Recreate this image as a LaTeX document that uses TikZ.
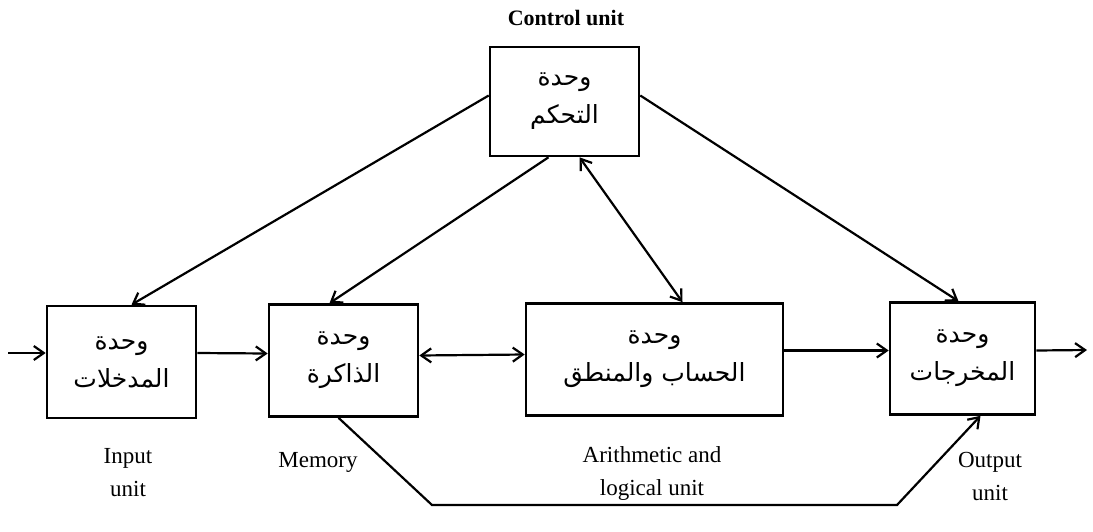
\documentclass[tikz,border=0pt]{standalone}
\usepackage{fontspec}
\setmainfont{Liberation Serif}
\newfontfamily\arabicfont[Script=Arabic]{DejaVu Sans}
\TeXXeTstate=1
\usepackage{tikz}
\usetikzlibrary{arrows.meta,positioning,calc}
\newcommand{\artxt}[1]{{\arabicfont\beginR #1\endR}}

\begin{document}
\begin{tikzpicture}[x=1pt,y=-1pt,>={Straight Barb[length=10pt,width=14pt]},
  unitbox/.style={draw,line width=2.6pt,minimum height=112pt,align=center,
    font=\fontsize{25}{38}\selectfont,inner sep=0pt},
  flow/.style={line width=2.2pt,->},
  tag/.style={align=center,font=\fontsize{23}{33}\selectfont}]
\useasboundingbox (0,0) rectangle (1093,531);
\node[unitbox,minimum width=149pt,minimum height=109pt] (ctrl) at (564.5,101.5) {\artxt{وحدة}\\\artxt{التحكم}};
\node[unitbox,minimum width=149pt] (in) at (121.5,362) {\artxt{وحدة}\\\artxt{المدخلات}};
\node[unitbox,minimum width=149pt] (mem) at (343.5,360.5) {\artxt{وحدة}\\\artxt{الذاكرة}};
\node[unitbox,minimum width=257pt] (alu) at (654.5,359.5) {\artxt{وحدة}\\\artxt{الحساب والمنطق}};
\node[unitbox,minimum width=145pt] (out) at (962.5,358.5) {\artxt{وحدة}\\\artxt{المخرجات}};
\coordinate (src) at (8,353);
\coordinate (snk) at (1087,350);
\coordinate (bl) at (432,505);
\coordinate (br) at (897,505);
\draw[flow] (src) -- (src -| in.west);
\draw[flow] ([yshift=9pt]in.east) -- ([yshift=7pt]mem.west);
\draw[flow,<->] ([yshift=5pt]mem.east) -- ([yshift=5pt]alu.east -| alu.west);
\draw[flow] ([yshift=9pt]alu.east) -- ([yshift=8pt]out.west);
\draw[flow] ([yshift=8pt]out.east) -- (snk);
\draw[flow] ([yshift=6pt]ctrl.west) -- ([xshift=10pt]in.north);
\draw[flow] ([xshift=-16pt]ctrl.south) -- ([xshift=-14pt]mem.north);
\draw[flow,<->] ([xshift=15pt]ctrl.south) -- ([xshift=28pt]alu.north);
\draw[flow] ([yshift=6pt]ctrl.east) -- ([xshift=-4pt]out.north);
\draw[flow] ([xshift=-5pt]mem.south) -- (bl) -- (br) -- ([xshift=18pt]out.south);
\node[tag,font=\fontsize{22}{26}\selectfont\bfseries] (ctrltag) at (566,18) {Control unit};
\node[tag] (intag) at (128,473) {Input\\unit};
\node[tag] (memtag) at (318,462) {Memory};
\node[tag] (alutag) at (652,473) {Arithmetic and\\logical unit};
\node[tag] (outtag) at (990,476) {Output\\unit};
\end{tikzpicture}
\end{document}
